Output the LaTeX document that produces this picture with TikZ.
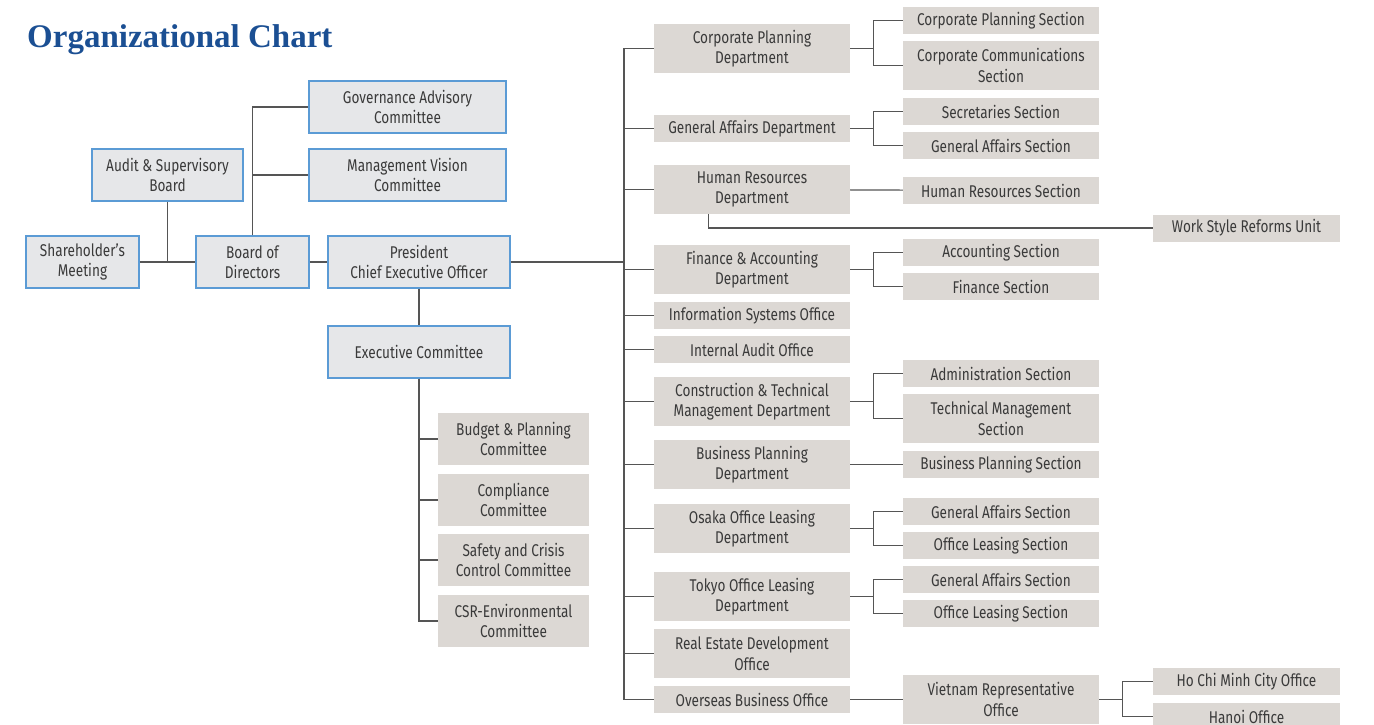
\documentclass[tikz,border=0pt]{standalone}
\usepackage{fontspec}
\setsansfont[FakeStretch=0.8]{Fira Sans}
\newfontfamily\headfont{Liberation Serif}
\usetikzlibrary{positioning}
\definecolor{lineg}{HTML}{555555}
\definecolor{boxblue}{HTML}{5B9BD5}
\definecolor{boxfill}{HTML}{E6E7E9}
\definecolor{unitfill}{HTML}{DCD8D4}
\definecolor{headblue}{HTML}{1B4F93}
\definecolor{txt}{HTML}{3A3A3A}

\begin{document}
\begin{tikzpicture}[x=1pt, y=-1pt,
  font=\sffamily\fontsize{17}{20.5}\selectfont, text=txt,
  board/.style={draw=boxblue, line width=1.6pt, fill=boxfill, align=center,
    minimum height=52pt, inner sep=0pt},
  comm/.style={fill=unitfill, align=center, minimum width=151pt,
    minimum height=52pt, inner sep=0pt},
  unit/.style={fill=unitfill, align=center, minimum width=196pt,
    minimum height=27pt, inner sep=0pt},
  unitt/.style={unit, minimum height=49pt},
  link/.style={draw=lineg, line width=1.2pt}]
\clip (0,0) rectangle (1374,724);

\def\xt{624}
\def\xd{752}
\def\xb{873}
\def\xs{1001}
\def\xv{1122}
\def\xu{1246.5}

\node[anchor=base west, inner sep=0pt, text=headblue,
  font=\headfont\bfseries\fontsize{33}{38}\selectfont] (title) at (27,47) {Organizational Chart};

% board side
\node[board, minimum width=113pt] (sm) at (82.5,262) {Shareholder’s\\Meeting};
\node[board, minimum width=151pt] (asb) at (167.5,175) {Audit \& Supervisory\\Board};
\node[board, minimum width=113pt] (bod) at (252.5,262) {Board of\\Directors};
\node[board, minimum width=197pt] (gac) at (407.5,107) {Governance Advisory\\Committee};
\node[board, minimum width=197pt] (mvc) at (407.5,175) {Management Vision\\Committee};
\node[board, minimum width=182pt] (pres) at (419,262) {President\\Chief Executive Officer};
\node[board, minimum width=182pt] (exe) at (419,352) {Executive Committee};

\node[comm] (bpc) at (513.5,439) {Budget \& Planning\\Committee};
\node[comm] (cc) at (513.5,500) {Compliance\\Committee};
\node[comm] (scc) at (513.5,560) {Safety and Crisis\\Control Committee};
\node[comm] (csr) at (513.5,621) {CSR-Environmental\\Committee};

% departments
\node[unitt] (cpd) at (\xd,48.5) {Corporate Planning\\Department};
\node[unit] (gad) at (\xd,128.5) {General Affairs Department};
\node[unitt] (hrd) at (\xd,189.5) {Human Resources\\Department};
\node[unitt] (fad) at (\xd,269.5) {Finance \& Accounting\\Department};
\node[unit] (iso) at (\xd,315.5) {Information Systems Office};
\node[unit] (iao) at (\xd,349.5) {Internal Audit Office};
\node[unitt] (ctd) at (\xd,401.5) {Construction \& Technical\\Management Department};
\node[unitt] (bpd) at (\xd,464.5) {Business Planning\\Department};
\node[unitt] (old) at (\xd,528.5) {Osaka Office Leasing\\Department};
\node[unitt] (tld) at (\xd,596.5) {Tokyo Office Leasing\\Department};
\node[unitt] (redo) at (\xd,653.5) {Real Estate Development\\Office};
\node[unit] (obo) at (\xd,699.5) {Overseas Business Office};

% sections
\node[unit] (cps) at (\xs,20.5) {Corporate Planning Section};
\node[unitt] (ccs) at (\xs,65.5) {Corporate Communications\\Section};
\node[unit] (sec) at (\xs,111.5) {Secretaries Section};
\node[unit] (gas) at (\xs,145.5) {General Affairs Section};
\node[unit] (hrs) at (\xs,190.5) {Human Resources Section};
\node[unit] (acs) at (\xs,252.5) {Accounting Section};
\node[unit] (fis) at (\xs,286.5) {Finance Section};
\node[unit] (ads) at (\xs,373.5) {Administration Section};
\node[unitt] (tms) at (\xs,418.5) {Technical Management\\Section};
\node[unit] (bps) at (\xs,464.5) {Business Planning Section};
\node[unit] (ogas) at (\xs,511.5) {General Affairs Section};
\node[unit] (ols) at (\xs,545.5) {Office Leasing Section};
\node[unit] (tgas) at (\xs,579.5) {General Affairs Section};
\node[unit] (tls) at (\xs,613.5) {Office Leasing Section};
\node[unitt] (vro) at (\xs,699.5) {Vietnam Representative\\Office};

\node[unit, minimum width=187pt] (wsr) at (\xu,228) {Work Style Reforms Unit};
\node[unit, minimum width=187pt] (hcm) at (\xu,681.5) {Ho Chi Minh City Office};
\node[unit, minimum width=187pt] (han) at (\xu,716.5) {Hanoi Office};

\coordinate (t) at (\xt,262);

% board links
\draw[link] (sm) -- (bod);
\draw[link] (asb.south) -- (asb.south |- sm.east);
\draw[link] (bod.north) |- (gac.west);
\draw[link] (bod.north) |- (mvc.west);
\draw[link] (bod) -- (pres);
\draw[link] (pres) -- (exe);
\draw[link] (exe.south) |- (bpc.west);
\draw[link] (exe.south) |- (cc.west);
\draw[link] (exe.south) |- (scc.west);
\draw[link] (exe.south) |- (csr.west);

% trunk to departments
\draw[link] (pres) -- (t);
\draw[link] (t) |- (cpd.west);
\draw[link] (t) |- (gad.west);
\draw[link] (t) |- (hrd.west);
\draw[link] (t) |- (fad.west);
\draw[link] (t) |- (iso.west);
\draw[link] (t) |- (iao.west);
\draw[link] (t) |- (ctd.west);
\draw[link] (t) |- (bpd.west);
\draw[link] (t) |- (old.west);
\draw[link] (t) |- (tld.west);
\draw[link] (t) |- (redo.west);
\draw[link] (t) |- (obo.west);

% departments to sections
\draw[link] (cpd.east) -- ++(23,0) |- (cps.west);
\draw[link] (cpd.east) ++(23,0) |- (ccs.west);
\draw[link] (gad.east) -- ++(23,0) |- (sec.west);
\draw[link] (gad.east) ++(23,0) |- (gas.west);
\draw[link] (hrd) -- (hrs);
\draw[link] (hrd.south west) ++(55,0) |- (wsr.west);
\draw[link] (fad.east) -- ++(23,0) |- (acs.west);
\draw[link] (fad.east) ++(23,0) |- (fis.west);
\draw[link] (ctd.east) -- ++(23,0) |- (ads.west);
\draw[link] (ctd.east) ++(23,0) |- (tms.west);
\draw[link] (bpd) -- (bps);
\draw[link] (old.east) -- ++(23,0) |- (ogas.west);
\draw[link] (old.east) ++(23,0) |- (ols.west);
\draw[link] (tld.east) -- ++(23,0) |- (tgas.west);
\draw[link] (tld.east) ++(23,0) |- (tls.west);
\draw[link] (obo) -- (vro);
\draw[link] (vro.east) -- ++(23,0) |- (hcm.west);
\draw[link] (vro.east) ++(23,0) |- (han.west);

\end{tikzpicture}
\end{document}
